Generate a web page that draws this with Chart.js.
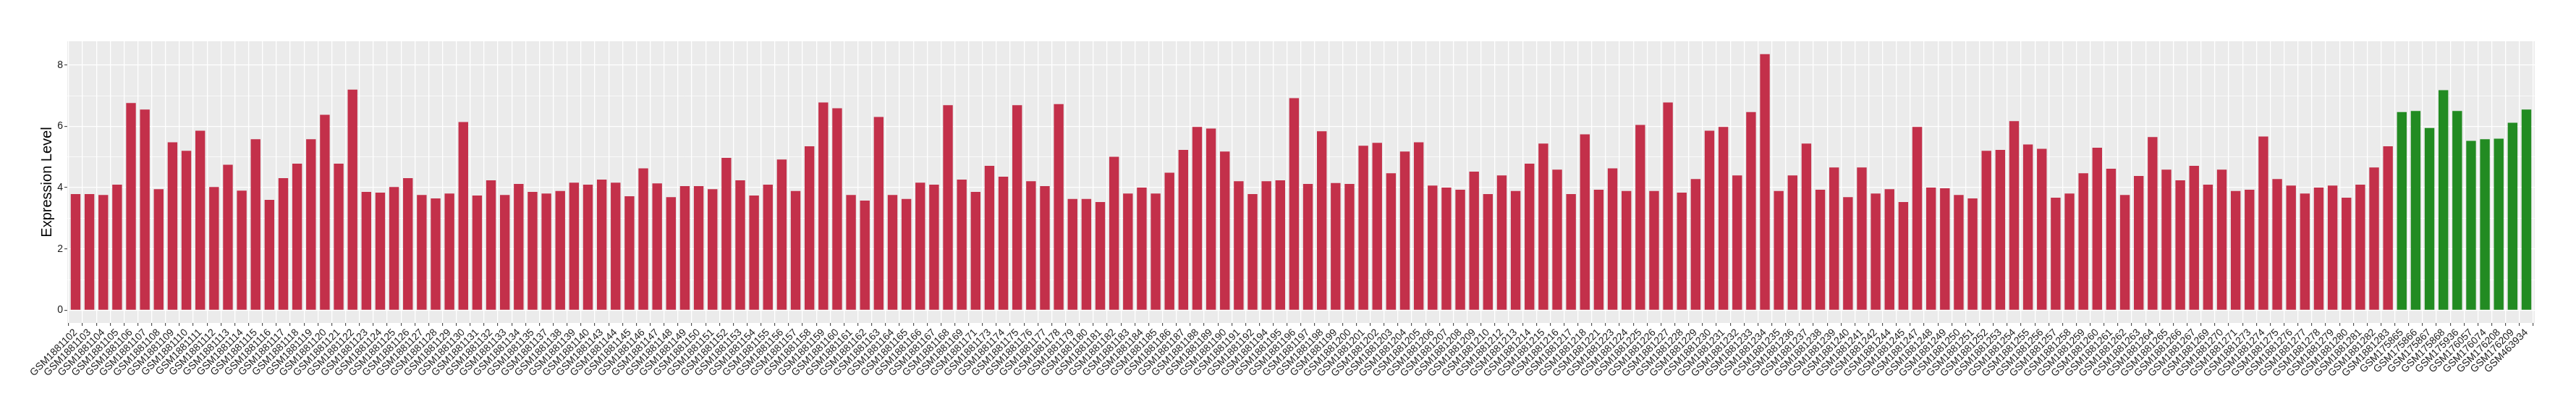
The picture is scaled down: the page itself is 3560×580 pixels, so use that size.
<!DOCTYPE html>
<html>
<head>
<meta charset="utf-8">
<title>Expression Level</title>
<script src="https://cdn.jsdelivr.net/npm/chart.js@4.4.1/dist/chart.umd.min.js"></script>
<style>
  html, body { margin: 0; padding: 0; background: #ffffff; }
  #wrap { width: 3560px; height: 580px; }
</style>
</head>
<body>
<div id="wrap"><canvas id="chart" width="3560" height="580"></canvas></div>
<script>
// samples, group 1 (red)
const redSamples = [
  "GSM1881102","GSM1881103","GSM1881104","GSM1881105","GSM1881106","GSM1881107","GSM1881108","GSM1881109",
  "GSM1881110","GSM1881111","GSM1881112","GSM1881113","GSM1881114","GSM1881115","GSM1881116","GSM1881117",
  "GSM1881118","GSM1881119","GSM1881120","GSM1881121","GSM1881122","GSM1881123","GSM1881124","GSM1881125",
  "GSM1881126","GSM1881127","GSM1881128","GSM1881129","GSM1881130","GSM1881131","GSM1881132","GSM1881133",
  "GSM1881134","GSM1881135","GSM1881137","GSM1881138","GSM1881139","GSM1881140","GSM1881143","GSM1881144",
  "GSM1881145","GSM1881146","GSM1881147","GSM1881148","GSM1881149","GSM1881150","GSM1881151","GSM1881152",
  "GSM1881153","GSM1881154","GSM1881155","GSM1881156","GSM1881157","GSM1881158","GSM1881159","GSM1881160",
  "GSM1881161","GSM1881162","GSM1881163","GSM1881164","GSM1881165","GSM1881166","GSM1881167","GSM1881168",
  "GSM1881169","GSM1881171","GSM1881173","GSM1881174","GSM1881175","GSM1881176","GSM1881177","GSM1881178",
  "GSM1881179","GSM1881180","GSM1881181","GSM1881182","GSM1881183","GSM1881184","GSM1881185","GSM1881186",
  "GSM1881187","GSM1881188","GSM1881189","GSM1881190","GSM1881191","GSM1881192","GSM1881194","GSM1881195",
  "GSM1881196","GSM1881197","GSM1881198","GSM1881199","GSM1881200","GSM1881201","GSM1881202","GSM1881203",
  "GSM1881204","GSM1881205","GSM1881206","GSM1881207","GSM1881208","GSM1881209","GSM1881210","GSM1881212",
  "GSM1881213","GSM1881214","GSM1881215","GSM1881216","GSM1881217","GSM1881218","GSM1881221","GSM1881223",
  "GSM1881224","GSM1881225","GSM1881226","GSM1881227","GSM1881228","GSM1881229","GSM1881230","GSM1881231",
  "GSM1881232","GSM1881233","GSM1881234","GSM1881235","GSM1881236","GSM1881237","GSM1881238","GSM1881239",
  "GSM1881240","GSM1881241","GSM1881242","GSM1881244","GSM1881245","GSM1881247","GSM1881248","GSM1881249",
  "GSM1881250","GSM1881251","GSM1881252","GSM1881253","GSM1881254","GSM1881255","GSM1881256","GSM1881257",
  "GSM1881258","GSM1881259","GSM1881260","GSM1881261","GSM1881262","GSM1881263","GSM1881264","GSM1881265",
  "GSM1881266","GSM1881267","GSM1881269","GSM1881270","GSM1881271","GSM1881273","GSM1881274","GSM1881275",
  "GSM1881276","GSM1881277","GSM1881278","GSM1881279","GSM1881280","GSM1881281","GSM1881282","GSM1881283"
];
const redValues = [
  3.79, 3.79, 3.76, 4.10, 6.76, 6.55, 3.95, 5.48,
  5.20, 5.86, 4.02, 4.75, 3.90, 5.58, 3.60, 4.31,
  4.78, 5.58, 6.38, 4.78, 7.20, 3.86, 3.84, 4.02,
  4.31, 3.76, 3.65, 3.81, 6.14, 3.74, 4.24, 3.76,
  4.12, 3.86, 3.81, 3.89, 4.16, 4.10, 4.26, 4.16,
  3.72, 4.63, 4.14, 3.69, 4.05, 4.05, 3.95, 4.97,
  4.24, 3.74, 4.10, 4.92, 3.89, 5.35, 6.78, 6.59,
  3.76, 3.58, 6.31, 3.76, 3.63, 4.16, 4.10, 6.69,
  4.26, 3.86, 4.71, 4.36, 6.69, 4.21, 4.05, 6.73,
  3.63, 3.63, 3.53, 5.01, 3.81, 4.00, 3.81, 4.49,
  5.23, 5.98, 5.93, 5.18, 4.21, 3.79, 4.21, 4.24,
  6.92, 4.12, 5.84, 4.15, 4.12, 5.37, 5.46, 4.47,
  5.18, 5.48, 4.07, 4.00, 3.93, 4.52, 3.79, 4.40,
  3.89, 4.78, 5.44, 4.59, 3.79, 5.74, 3.93, 4.63,
  3.89, 6.05, 3.89, 6.78, 3.84, 4.28, 5.86, 5.98,
  4.40, 6.47, 8.36, 3.89, 4.40, 5.44, 3.93, 4.66,
  3.69, 4.66, 3.81, 3.95, 3.53, 5.98, 4.00, 3.98,
  3.76, 3.65, 5.20, 5.23, 6.17, 5.41, 5.27, 3.67,
  3.81, 4.47, 5.30, 4.62, 3.76, 4.38, 5.65, 4.59,
  4.24, 4.71, 4.10, 4.59, 3.89, 3.93, 5.67, 4.28,
  4.07, 3.81, 4.00, 4.07, 3.67, 4.10, 4.66, 5.35
];

// samples, group 2 (green)
const greenSamples = [
  "GSM175865","GSM175866","GSM175867","GSM175868","GSM175936",
  "GSM176057","GSM176074","GSM176208","GSM176209","GSM463934"
];
const greenValues = [6.47, 6.50, 5.95, 7.18, 6.50, 5.53, 5.58, 5.60, 6.12, 6.55];

const yTicks = [0, 1, 2, 3, 4, 5, 6, 7, 8];

const RED = "#C3304A";
const GREEN = "#228B22";

const labels = redSamples.concat(greenSamples);
const values = redValues.concat(greenValues);
const colors = redSamples.map(() => RED).concat(greenSamples.map(() => GREEN));
const points = values.map((v, i) => ({ x: i, y: v }));

// ggplot-like expansion
const yMax = Math.max(...values);
const yPad = yMax * 0.05;

const panelBg = {
  id: "panelBg",
  beforeDraw(chart){
    const a = chart.chartArea;
    const ctx = chart.ctx;
    ctx.save();
    ctx.fillStyle = "#EBEBEB";
    ctx.fillRect(a.left, a.top, a.right - a.left, a.bottom - a.top);
    ctx.restore();
  }
};

const FONT = "'Liberation Sans', Arial, Helvetica, sans-serif";

new Chart(document.getElementById("chart"), {
  type: "bar",
  data: {
    datasets: [{
      data: points,
      backgroundColor: colors,
      borderWidth: 0,
      barPercentage: 0.7,
      categoryPercentage: 1
    }]
  },
  plugins: [panelBg],
  options: {
    responsive: false,
    animation: false,
    devicePixelRatio: 1,
    layout: { padding: { top: 57, right: 57, left: 0, bottom: 0 } },
    plugins: {
      legend: { display: false },
      tooltip: { enabled: false }
    },
    scales: {
      x: {
        type: "linear",
        min: -0.6,
        max: labels.length - 1 + 0.6,
        offset: false,
        border: { display: false },
        grid: {
          color: "#FFFFFF",
          lineWidth: 1.3,
          drawTicks: true,
          tickLength: 4,
          tickColor: "#333333",
          tickWidth: 1
        },
        afterBuildTicks: (scale) => {
          scale.ticks = labels.map((_, i) => ({ value: i }));
        },
        afterFit: (scale) => { scale.height = 134; },
        ticks: {
          autoSkip: false,
          minRotation: 45,
          maxRotation: 45,
          padding: 1,
          color: "#1A1A1A",
          font: { family: FONT, size: 14 },
          callback: (v) => labels[v]
        }
      },
      y: {
        min: -yPad,
        max: yMax + yPad,
        border: { display: false },
        afterBuildTicks: (scale) => {
          scale.ticks = yTicks.map(v => ({ value: v }));
        },
        afterFit: (scale) => { scale.width = 93; },
        grid: {
          color: "#FFFFFF",
          lineWidth: (c) => (c.tick && c.tick.value % 2 === 0) ? 1.3 : 0.7,
          drawTicks: true,
          tickLength: 4,
          tickWidth: 1,
          tickColor: (c) => (c.tick && c.tick.value % 2 === 0) ? "#333333" : "rgba(0,0,0,0)"
        },
        ticks: {
          padding: 2,
          color: "#1A1A1A",
          font: { family: FONT, size: 14 },
          callback: (v) => (v % 2 === 0 ? String(v) : "")
        },
        title: {
          display: true,
          text: "Expression Level",
          color: "#000000",
          font: { family: FONT, size: 20 },
          padding: { top: 53, bottom: 0 }
        }
      }
    }
  }
});
</script>
</body>
</html>
